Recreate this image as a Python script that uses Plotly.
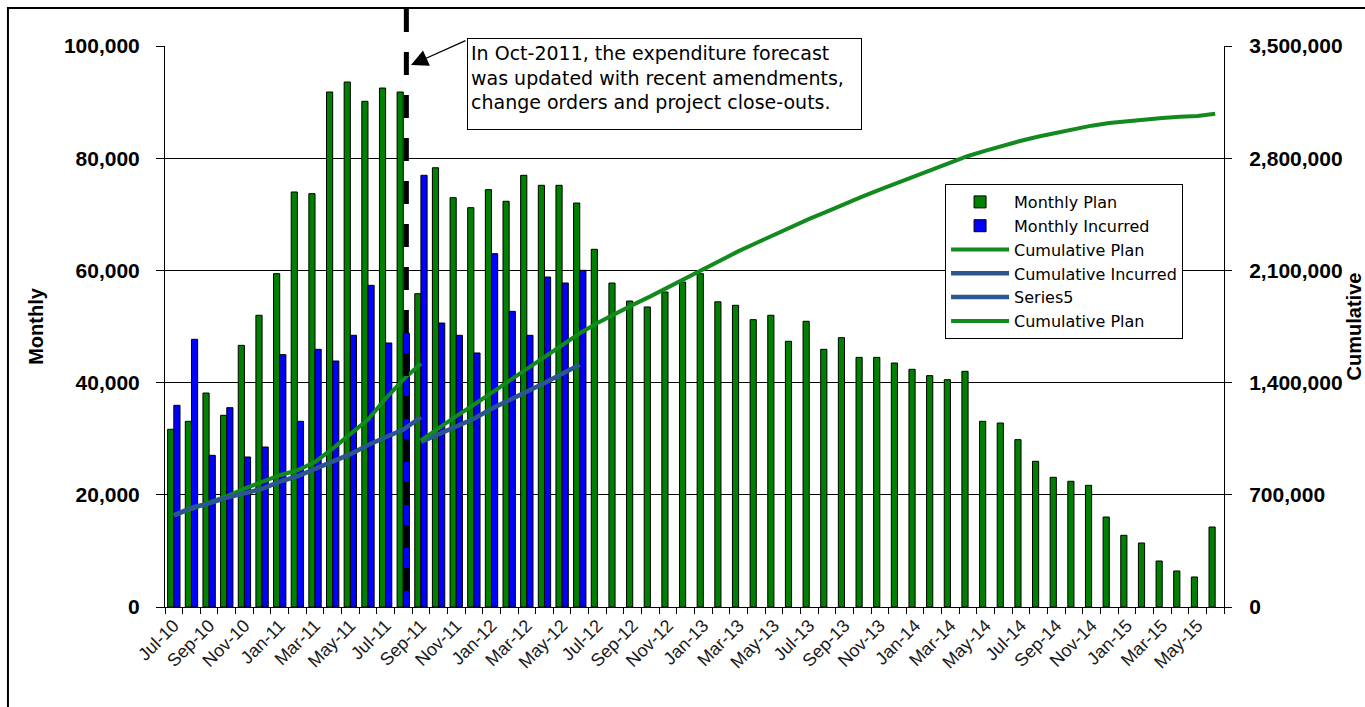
import pandas as pd
import plotly.graph_objects as go

# Month categories, Jul-10 through Jun-15
MONTHS = list(pd.date_range("2010-07-01", periods=60, freq="MS").strftime("%b-%y"))
TICK_TEXT = [m if i % 2 == 0 else "" for i, m in enumerate(MONTHS)]

# Monthly expenditure plan (Jul-10 .. Jun-15)
MONTHLY_PLAN = [
    31680, 33100, 38140, 34170, 46640, 52000, 59420, 73980, 73680, 91800,
    93580, 90140, 92510, 91800, 55850, 78300, 72960, 71180, 74390, 72320,
    76950, 75170, 75170, 72010, 63760, 57750, 54540, 53480, 56150, 57930,
    59420, 54400, 53780, 51220, 52000, 47360, 50930, 45930, 48010, 44500,
    44500, 43490, 42370, 41240, 40520, 42010, 33100, 32800, 29830, 25970,
    23120, 22410, 21690, 16040, 12780, 11410, 8200, 6420, 5350, 14260,
]

# Monthly incurred (Jul-10 .. Jun-12)
MONTHLY_INCURRED = [
    35950, 47720, 27040, 35530, 26740, 28520, 44980, 33100, 45930, 43850,
    48430, 57340, 47060, 48800, 76950, 50620, 48430, 45280, 62980, 52700,
    48430, 58820, 57750, 60010,
]

# Cumulative plan before the Oct-2011 update (Jul-10 .. Sep-11)
CUM_PLAN_ORIGINAL = [
    572000, 614000, 651000, 691000, 739000, 780000, 822000, 853000, 905000,
    988000, 1082000, 1170000, 1300000, 1419000, 1519000,
]

# Cumulative incurred (Jul-10 .. Sep-11)
CUM_INCURRED = [
    572000, 619700, 646800, 682300, 709000, 737600, 782500, 815600, 861600,
    905400, 953800, 1011200, 1058200, 1107000, 1184000,
]

# Cumulative incurred on the updated basis (Sep-11 .. Jun-12)
SERIES5 = [
    1030000, 1080000, 1129000, 1174000, 1237000, 1290000, 1338000, 1397000,
    1455000, 1512000,
]

# Cumulative plan after the update (Sep-11 .. Jun-15)
CUM_PLAN_UPDATED = [
    1040000, 1118000, 1191000, 1262000, 1337000, 1409000, 1486000, 1561000,
    1636000, 1708000, 1772000, 1830000, 1885000, 1938000, 1994000, 2052000,
    2111000, 2166000, 2220000, 2271000, 2323000, 2370000, 2421000, 2467000,
    2515000, 2560000, 2604000, 2648000, 2690000, 2731000, 2772000, 2814000,
    2847000, 2880000, 2909000, 2935000, 2959000, 2981000, 3003000, 3019000,
    3031000, 3043000, 3051000, 3058000, 3063000, 3077000,
]

UPDATE_MONTH = "Aug-11"
NOTE_LINES = [
    "In Oct-2011, the expenditure forecast",
    "was updated with recent amendments,",
    "change orders and project close-outs.",
]

FONT = "Liberation Sans, Arial, sans-serif"
WIDE_FONT = "DejaVu Sans, sans-serif"
GREEN_BAR = "#008000"
BLUE_BAR = "#0000FF"
GREEN_LINE = "#128A1E"
NAVY_LINE = "#2C5690"

sep11 = MONTHS.index("Sep-11")

fig = go.Figure()

fig.add_trace(go.Bar(
    x=MONTHS, y=MONTHLY_PLAN, name="Monthly Plan",
    marker=dict(color=GREEN_BAR, line=dict(color="black", width=1)),
))
fig.add_trace(go.Bar(
    x=MONTHS[:len(MONTHLY_INCURRED)], y=MONTHLY_INCURRED, name="Monthly Incurred",
    marker=dict(color=BLUE_BAR, line=dict(color="black", width=1)),
))
fig.add_trace(go.Scatter(
    x=MONTHS[:sep11 + 1], y=CUM_PLAN_ORIGINAL, name="Cumulative Plan",
    mode="lines", line=dict(color=GREEN_LINE, width=4), yaxis="y2",
))
fig.add_trace(go.Scatter(
    x=MONTHS[:sep11 + 1], y=CUM_INCURRED, name="Cumulative Incurred",
    mode="lines", line=dict(color=NAVY_LINE, width=4.5), yaxis="y2",
))
fig.add_trace(go.Scatter(
    x=MONTHS[sep11:sep11 + len(SERIES5)], y=SERIES5, name="Series5",
    mode="lines", line=dict(color=NAVY_LINE, width=4.5), yaxis="y2",
))
fig.add_trace(go.Scatter(
    x=MONTHS[sep11:], y=CUM_PLAN_UPDATED, name="Cumulative Plan",
    mode="lines", line=dict(color=GREEN_LINE, width=4), yaxis="y2",
))

# Forecast-update marker: dashed line over the Aug-11 incurred bar
marker_x = MONTHS.index(UPDATE_MONTH) + 0.175

shapes = [
    dict(type="line", xref="x", yref="paper", x0=marker_x, x1=marker_x,
         y0=1.066, y1=0.0, line=dict(color="black", width=5, dash="23px,20px")),
    # chart-area frame
    dict(type="rect", xref="paper", yref="paper", x0=-0.1483, x1=1.15,
         y0=-0.2, y1=1.0677, line=dict(color="black", width=2),
         fillcolor="rgba(0,0,0,0)", layer="below"),
]

annotations = [
    dict(xref="paper", yref="paper", x=0.2852, y=1.0143,
         xanchor="left", yanchor="top", showarrow=False,
         text="<br>".join(NOTE_LINES), align="left", valign="top",
         width=387, height=84, borderpad=3,
         bordercolor="black", borderwidth=1, bgcolor="white",
         font=dict(family=WIDE_FONT, size=19, color="black")),
    dict(xref="paper", yref="paper", x=0.2323, y=0.9661, text="",
         showarrow=True, axref="pixel", ayref="pixel", ax=56, ay=-25,
         arrowhead=2, arrowsize=2.6, arrowwidth=1.3, arrowcolor="black"),
]

fig.update_layout(
    width=1365, height=707,
    margin=dict(l=165, r=141, t=46, b=100, autoexpand=False),
    paper_bgcolor="white", plot_bgcolor="white",
    font=dict(family=FONT, color="black"),
    barmode="group", bargap=0.3, bargroupgap=0.0,
    showlegend=True,
    legend=dict(
        x=0.7366, y=0.7540, xanchor="left", yanchor="top",
        bgcolor="white", bordercolor="black", borderwidth=1,
        font=dict(family=WIDE_FONT, size=16, color="black"),
        itemwidth=58, tracegroupgap=0, traceorder="normal",
    ),
    xaxis=dict(
        type="category", categoryorder="array", categoryarray=MONTHS,
        range=[-0.5, len(MONTHS) - 0.5], automargin=False,
        tickmode="array", tickvals=MONTHS, ticktext=TICK_TEXT,
        tickson="boundaries", ticks="outside", ticklen=6, tickcolor="black",
        tickangle=-45, tickfont=dict(family=FONT, size=18, color="#1a1a1a"),
        showline=True, linecolor="black", linewidth=1,
        showgrid=False, zeroline=False,
    ),
    yaxis=dict(
        range=[0, 100000], tick0=0, dtick=20000, tickformat=",",
        automargin=False,
        ticks="outside", ticklen=8, tickcolor="black", ticklabelstandoff=12,
        tickfont=dict(family=FONT, size=21, weight="bold", color="black"),
        showline=True, linecolor="black", linewidth=1,
        showgrid=True, gridcolor="black", gridwidth=1, zeroline=False,
        title=dict(text="Monthly", standoff=14,
                   font=dict(family=FONT, size=20, weight="bold", color="black")),
    ),
    yaxis2=dict(
        overlaying="y", side="right", automargin=False,
        range=[0, 3500000], tick0=0, dtick=700000, tickformat=",",
        ticks="outside", ticklen=7, tickcolor="black", ticklabelstandoff=13,
        tickfont=dict(family=FONT, size=21, weight="bold", color="black"),
        showline=True, linecolor="black", linewidth=1,
        showgrid=False, zeroline=False,
        title=dict(text="Cumulative", standoff=14,
                   font=dict(family=FONT, size=20, weight="bold", color="black")),
    ),
    shapes=shapes,
    annotations=annotations,
)

fig.write_html("out.html")
